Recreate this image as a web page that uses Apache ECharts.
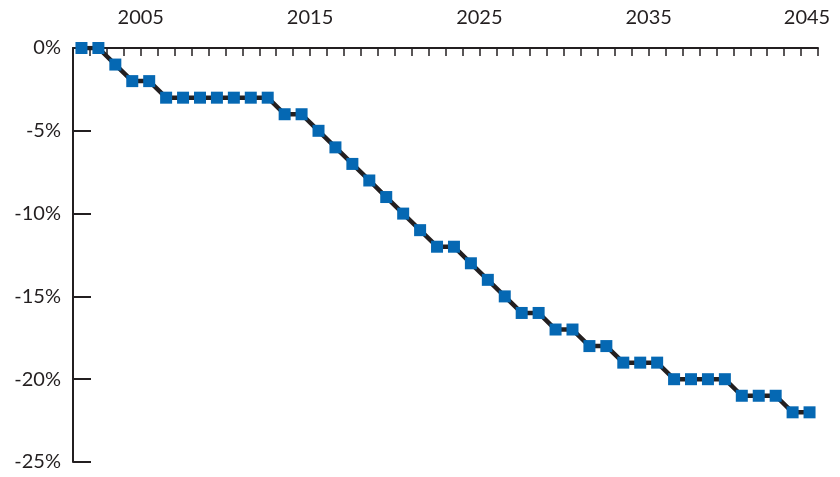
<!DOCTYPE html>
<html>
<head>
<meta charset="utf-8">
<script src="https://cdn.jsdelivr.net/npm/echarts@6/dist/echarts.min.js"></script>
<style>
html, body { margin: 0; padding: 0; background: #fff; }
#chart { width: 840px; height: 477px; }
</style>
</head>
<body>
<div id="chart"></div>
<script>
// 年份 (points sit in the middle of each year)
var years = [2001, 2002, 2003, 2004, 2005, 2006, 2007, 2008, 2009, 2010,
	2011, 2012, 2013, 2014, 2015, 2016, 2017, 2018, 2019, 2020,
	2021, 2022, 2023, 2024, 2025, 2026, 2027, 2028, 2029, 2030,
	2031, 2032, 2033, 2034, 2035, 2036, 2037, 2038, 2039, 2040,
	2041, 2042, 2043, 2044];
// change in %
var values = [0, 0, -1, -2, -2, -3, -3, -3, -3, -3,
	-3, -3, -4, -4, -5, -6, -7, -8, -9, -10,
	-11, -12, -12, -13, -14, -15, -16, -16, -17, -17,
	-18, -18, -19, -19, -19, -20, -20, -20, -20, -21,
	-21, -21, -22, -22];
var xLabelYears = [2005, 2015, 2025, 2035, 2045];

var seriesData = [];
for (var i = 0; i < years.length; i++) {
	seriesData.push([years[i] + 0.5, values[i]]);
}

var chart = echarts.init(document.getElementById('chart'));
chart.setOption({
	animation: false,
	grid: { left: 73, right: 22, top: 48, bottom: 15 },
	xAxis: {
		type: 'value',
		position: 'top',
		min: 2001,
		max: 2045,
		interval: 1,
		axisLine: { show: true, onZero: false, lineStyle: { color: '#231f20', width: 2 } },
		axisTick: { show: true, inside: true, length: 8, lineStyle: { color: '#231f20', width: 1.5 } },
		splitLine: { show: false },
		axisLabel: {
			margin: 20,
			color: '#231f20',
			fontFamily: 'Lato',
			fontSize: 20,
			showMinLabel: true,
			showMaxLabel: true,
			formatter: function (v) {
				if (v === 2045) return '{last|2045}';
				return xLabelYears.indexOf(v) >= 0 ? String(v) : '';
			},
			rich: {
				last: { fontFamily: 'Lato', fontSize: 20, color: '#231f20', padding: [0, 22, 0, 0] }
			}
		}
	},
	yAxis: {
		type: 'value',
		min: -25,
		max: 0,
		interval: 5,
		axisLine: { show: true, onZero: false, lineStyle: { color: '#231f20', width: 2 } },
		axisTick: { show: true, inside: true, length: 18, lineStyle: { color: '#231f20', width: 2 } },
		splitLine: { show: false },
		axisLabel: {
			margin: 12,
			color: '#231f20',
			fontFamily: 'Lato',
			fontSize: 20,
			formatter: '{value}%'
		}
	},
	series: [{
		type: 'line',
		data: seriesData,
		symbol: 'rect',
		symbolSize: 12,
		itemStyle: { color: '#0568b3' },
		lineStyle: { color: '#231f20', width: 4.5 },
		z: 3
	}]
});
</script>
</body>
</html>
